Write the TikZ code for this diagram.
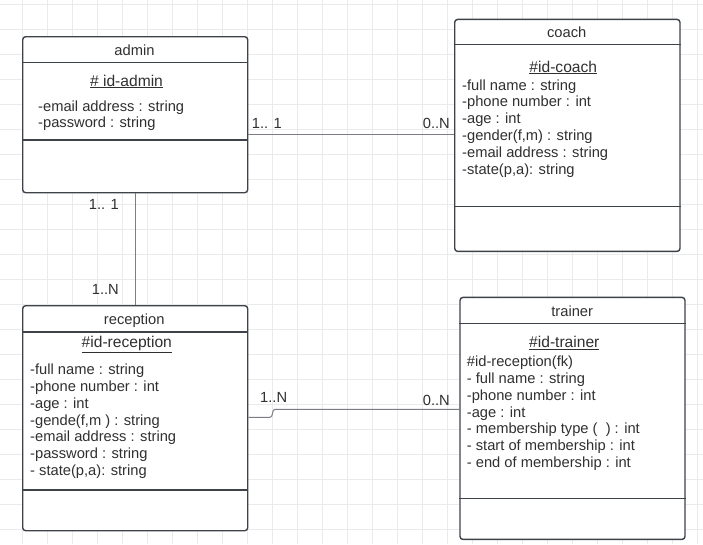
\documentclass[tikz,border=0pt]{standalone}
\usepackage{fontspec}
\setmainfont{Liberation Sans}
\usetikzlibrary{calc}
\definecolor{gridc}{HTML}{EAEAEA}
\definecolor{ink}{HTML}{303030}
\definecolor{frame}{HTML}{3E434A}
\definecolor{wire}{HTML}{7A7D82}
\begin{document}
\begin{tikzpicture}[x=1pt,y=-1pt,
  classbox/.style={draw=frame, line width=1.4pt, fill=white, rounded corners=3pt,
    anchor=north west, inner sep=0pt},
  sep/.style={draw=frame, line width=1.2pt},
  wirestyle/.style={draw=wire, line width=1pt},
  txt/.style={inner sep=0pt, text=ink, font=\fontsize{14.7}{17}\selectfont},
  title/.style={txt, anchor=base},
  keyattr/.style={txt, anchor=base, font=\fontsize{15.6}{18}\selectfont},
  attr/.style={txt, anchor=base west},
  mult/.style={txt},
]
\useasboundingbox (0,0) rectangle (703,544);
\fill[white] (0,0) rectangle (703,544);

% background grid, 25 units
\foreach \k in {-1,...,27} \draw[gridc, line width=0.9pt] ({22.7+25*\k},0) -- ({22.7+25*\k},544);
\foreach \k in {0,...,21} \draw[gridc, line width=0.9pt] (0,{4.3+25*\k}) -- (703,{4.3+25*\k});

% class boxes
\node[classbox, minimum width=225, minimum height=156] (admin) at (22,36) {};
\node[classbox, minimum width=225.3, minimum height=232] (coach) at (454,18.7) {};
\node[classbox, minimum width=225, minimum height=225] (reception) at (22,305) {};
\node[classbox, minimum width=225, minimum height=242] (trainer) at (459.3,296.7) {};

% associations
\draw[wirestyle] (admin.east |- 0,134) -- (coach.west |- 0,134);
\draw[wirestyle] (admin.south) -- (reception.north);
\draw[wirestyle] (reception.east |- 0,417.3) -- (270,417.3)
  .. controls (273.5,417.3) and (271.5,409.3) .. (275,409.3)
  -- (trainer.west |- 0,409.3);

% compartments
\draw[sep] (admin.west |- 0,62.7) -- (admin.east |- 0,62.7);
\draw[sep] (admin.west |- 0,140) -- (admin.east |- 0,140);
\draw[sep] (coach.west |- 0,44.7) -- (coach.east |- 0,44.7);
\draw[sep] (coach.west |- 0,206.7) -- (coach.east |- 0,206.7);
\draw[sep] (reception.west |- 0,332) -- (reception.east |- 0,332);
\draw[sep] (reception.west |- 0,490) -- (reception.east |- 0,490);
\draw[sep] (trainer.west |- 0,323.3) -- (trainer.east |- 0,323.3);
\draw[sep] (trainer.west |- 0,498.7) -- (trainer.east |- 0,498.7);

% admin
\node[title] (admintitle) at (134.5,55.3) {admin};
\node[keyattr] (adminkey) at (126.5,86) {\underline{\# id-admin}};
\node[attr] (admin1) at (38,111.3) {-email address : string};
\node[attr] (admin2) at (38,127.3) {-password : string};

% coach
\node[title] (coachtitle) at (566.7,37.6) {coach};
\node[keyattr] (coachkey) at (563.3,72) {\underline{\#id-coach}};
\foreach \t [count=\i] in {{-full name : string},{-phone number : int},{-age : int},
  {-gender(f,m) : string},{-email address : string},{-state(p,a): string}}
  \node[attr] (coach\i) at (462,{90+16.8*(\i-1)}) {\t};

% reception
\node[title] (receptiontitle) at (134.2,324) {reception};
\node[keyattr] (receptionkey) at (126.8,347.3) {\underline{\#id-reception}};
\foreach \t [count=\i] in {{-full name : string},{-phone number : int},{-age : int},
  {-gende(f,m ) : string},{-email address : string},{-password : string},{- state(p,a): string}}
  \node[attr] (reception\i) at (30,{374.6+16.8*(\i-1)}) {\t};

% trainer
\node[title] (trainertitle) at (572.2,316) {trainer};
\node[keyattr] (trainerkey) at (564.3,347.6) {\underline{\#id-trainer}};
\foreach \t [count=\i] in {{\#id-reception(fk)},{- full name : string},{-phone number : int},{-age : int},
  {- membership type (\ \ ) : int},{- start of membership : int},{- end of membership : int}}
  \node[attr] (trainer\i) at (466.7,{366.6+16.8*(\i-1)}) {\t};

% multiplicities
\node[mult, anchor=base west] (m1) at (251.7,128) {1.. 1};
\node[mult, anchor=base east] (m2) at (450,128) {0..N};
\node[mult, anchor=base east] (m3) at (119,209.3) {1.. 1};
\node[mult, anchor=base east] (m4) at (119,294.3) {1..N};
\node[mult, anchor=base west] (m5) at (260,402.6) {1..N};
\node[mult, anchor=base east] (m6) at (450,405.3) {0..N};
\end{tikzpicture}
\end{document}
